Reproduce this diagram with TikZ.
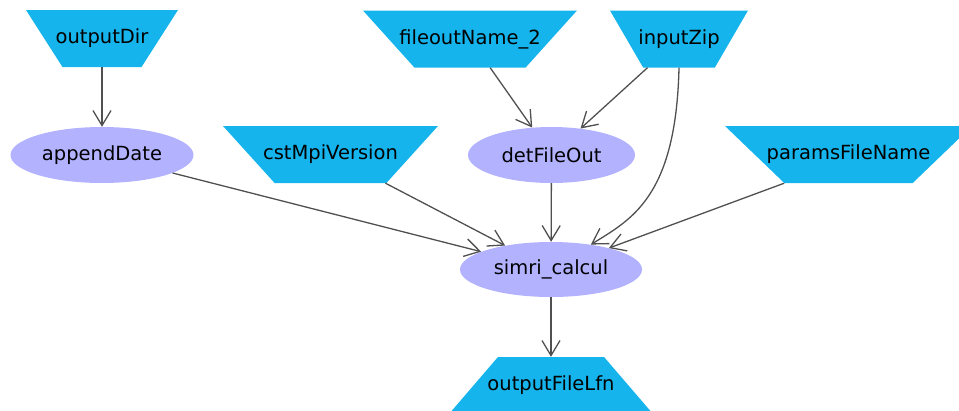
\documentclass[tikz,border=0pt]{standalone}
\usepackage{fontspec}
\newfontfamily\diagfont{DejaVu Sans}
\usepackage{tikz}
\usetikzlibrary{shapes.geometric,calc,arrows.meta}

\definecolor{portblue}{RGB}{22,180,236}
\definecolor{taskviolet}{RGB}{178,178,255}
\definecolor{linkgray}{RGB}{80,80,80}

\begin{document}
\begin{tikzpicture}[
        x=1pt, y=-1pt,
        every node/.style={font=\diagfont\fontsize{19.5}{23}\selectfont},
        inport/.style={rectangle, inner sep=0pt, minimum height=57pt,
            path picture={\fill[portblue] (path picture bounding box.north west) -- (path picture bounding box.north east)
                -- ($(path picture bounding box.south east)!0.24!(path picture bounding box.south west)$)
                -- ($(path picture bounding box.south west)!0.24!(path picture bounding box.south east)$) -- cycle;}},
        outport/.style={rectangle, inner sep=0pt, minimum height=57pt,
            path picture={\fill[portblue] (path picture bounding box.south west) -- (path picture bounding box.south east)
                -- ($(path picture bounding box.north east)!0.24!(path picture bounding box.north west)$)
                -- ($(path picture bounding box.north west)!0.24!(path picture bounding box.north east)$) -- cycle;}},
        task/.style={ellipse, fill=taskviolet, inner sep=0pt, minimum height=56pt},
        link/.style={-{Straight Barb[length=15pt,width=18pt]}, line width=1.3pt, draw=linkgray}
        ]
        \useasboundingbox (0,0) rectangle (959,410);

        \node[inport, minimum width=152pt] (outputDir) at (102, 38.5) {outputDir};
        \node[inport, minimum width=214pt] (fileoutName) at (470, 39) {fileoutName\_2};
        \node[inport, minimum width=138pt] (inputZip) at (679, 39) {inputZip};
        \node[inport, minimum width=215pt] (cstMpiVersion) at (330.5, 154.5) {cstMpiVersion};
        \node[inport, minimum width=247pt] (paramsFileName) at (848.5, 154.5) {paramsFileName};
        \node[task, minimum width=183pt] (appendDate) at (102, 155) {appendDate};
        \node[task, minimum width=167pt] (detFileOut) at (551.5, 155) {detFileOut};
        \node[task, minimum width=182pt, minimum height=55pt] (simri) at (551, 269.5) {simri\_calcul};
        \node[outport, minimum width=204pt] (outputFileLfn) at (551, 385.5) {outputFileLfn};

        \draw[link] (outputDir) -- (appendDate);
        \draw[link] (fileoutName) -- (detFileOut);
        \draw[link] (inputZip) -- (detFileOut);
        \draw[link] (inputZip.south) .. controls +(-3,130) and +(40,-25) .. (simri.32);
        \draw[link] (appendDate) -- (simri);
        \draw[link] (cstMpiVersion) -- (simri);
        \draw[link] (detFileOut) -- (simri);
        \draw[link] ($(paramsFileName.south west)!0.24!(paramsFileName.south east)$) -- (simri);
        \draw[link] (simri) -- (outputFileLfn);

    \end{tikzpicture}
\end{document}
